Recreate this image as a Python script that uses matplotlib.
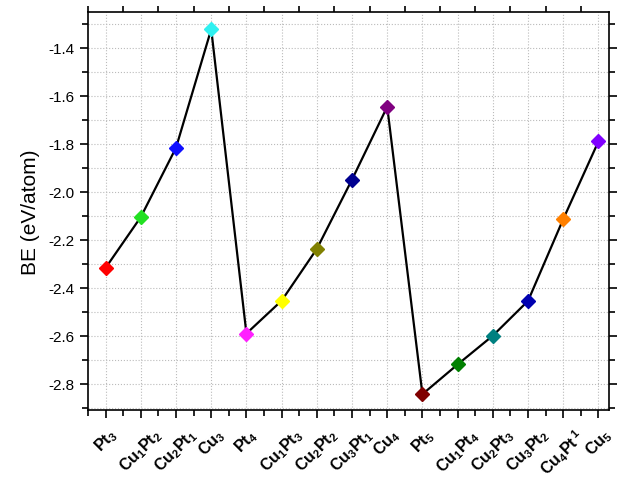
import matplotlib
matplotlib.use("Agg")
import matplotlib.pyplot as plt
from matplotlib.ticker import MultipleLocator, FixedLocator

plt.rcParams['font.family'] = ['Liberation Sans', 'DejaVu Sans']
plt.rcParams['mathtext.fontset'] = 'custom'
plt.rcParams['mathtext.rm'] = 'Liberation Sans:bold'
plt.rcParams['mathtext.bf'] = 'Liberation Sans:bold'
plt.rcParams['mathtext.it'] = 'Liberation Sans:bold'
plt.rcParams['mathtext.default'] = 'bf'

labels = ['Pt$_3$', 'Cu$_1$Pt$_2$', 'Cu$_2$Pt$_1$', 'Cu$_3$', 'Pt$_4$',
          'Cu$_1$Pt$_3$', 'Cu$_2$Pt$_2$', 'Cu$_3$Pt$_1$', 'Cu$_4$', 'Pt$_5$',
          'Cu$_1$Pt$_4$', 'Cu$_2$Pt$_3$', 'Cu$_3$Pt$_2$', r'Cu$_4$Pt$\,^1$', 'Cu$_5$']
be = [-2.317, -2.105, -1.816, -1.322, -2.591,
      -2.454, -2.238, -1.949, -1.645, -2.844,
      -2.720, -2.600, -2.455, -2.114, -1.790]
colors = ['#ff0000', '#22e022', '#1010ff', '#30f0f0', '#ff20ff',
          '#ffff00', '#808000', '#000090', '#800080', '#800000',
          '#008000', '#008080', '#0000b0', '#ff8000', '#8000ff']

fig = plt.figure(figsize=(6.23, 4.81), dpi=100)
ax = fig.add_axes([0.1413, 0.1455, 0.8362, 0.8275])
x = list(range(len(be)))
ax.plot(x, be, color='black', lw=1.6, zorder=2)
for xi, yi, c in zip(x, be, colors):
    ax.plot(xi, yi, marker='D', ms=7.5, color=c, mec=c, zorder=3)

ax.set_xlim(-0.5, 14.3)

ax.set_xticks(x)
ax.set_xticklabels(labels, rotation=45, ha='center', va='top', fontsize=11.5, fontweight='bold')
ax.xaxis.set_minor_locator(FixedLocator([i + 0.5 for i in range(-1, 15)]))
ax.yaxis.set_major_locator(MultipleLocator(0.2))
ax.yaxis.set_minor_locator(MultipleLocator(0.1))
ax.set_ylim(-2.91, -1.25)
ax.yaxis.set_major_formatter(matplotlib.ticker.FormatStrFormatter('%.1f'))

ax.tick_params(axis='x', which='major', direction='out', length=6, width=1.2, bottom=True, top=False, pad=5)
ax.tick_params(axis='x', which='minor', direction='out', length=4, width=1.2, bottom=True, top=True)
ax.tick_params(axis='y', which='major', direction='out', length=6, width=1.2, left=True, right=True, labelsize=11)
ax.tick_params(axis='y', which='minor', direction='out', length=4, width=1.2, left=True, right=True)

for s in ax.spines.values():
    s.set_linewidth(1.2)

ax.grid(True, which='major', axis='x', color='#bbbbbb', ls=':', lw=0.8)
ax.grid(True, which='both', axis='y', color='#bbbbbb', ls=':', lw=0.8)
ax.set_axisbelow(True)

ax.set_ylabel('BE (eV/atom)', fontsize=15, labelpad=6)

fig.savefig('out.png', dpi=100)
